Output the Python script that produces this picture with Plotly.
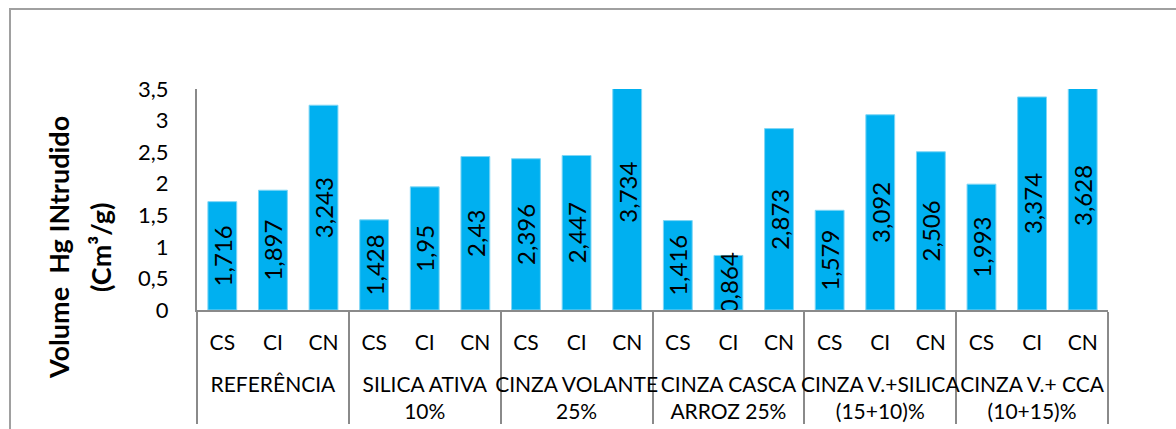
import plotly.graph_objects as go

# Mixture groups (outer category) and specimen types (inner category)
groups = [
    "REFERÊNCIA",
    "SILICA ATIVA<br>10%",
    "CINZA VOLANTE<br>25%",
    "CINZA CASCA<br>ARROZ 25%",
    "CINZA V.+SILICA<br>(15+10)%",
    "CINZA V.+ CCA<br>(10+15)%",
]
types = ["CS", "CI", "CN"]

# Intruded mercury volume (cm³/g) per group, in CS, CI, CN order
ref_vals = [1.716, 1.897, 3.243]
silica_vals = [1.428, 1.95, 2.43]
volante_vals = [2.396, 2.447, 3.734]
casca_vals = [1.416, 0.864, 2.873]
vsilica_vals = [1.579, 3.092, 2.506]
vcca_vals = [1.993, 3.374, 3.628]

all_vals = [ref_vals, silica_vals, volante_vals, casca_vals, vsilica_vals, vcca_vals]

outer, inner, values = [], [], []
for g, vals in zip(groups, all_vals):
    for t, v in zip(types, vals):
        # leading break leaves a blank row between the two label levels
        outer.append("<br>" + g)
        inner.append(t)
        values.append(v)

labels = [f"{v:g}".replace(".", ",") for v in values]

W, H = 1176, 429
L, R, T, B = 197, 68, 89, 119
pw, ph = W - L - R, H - T - B

def px_x(x):
    return (x - L) / pw

def px_y(y):
    return (H - B - y) / ph

AXIS_GRAY = "#8a8a8a"

fig = go.Figure(
    go.Bar(
        x=[outer, inner],
        y=values,
        text=labels,
        textposition="inside",
        insidetextanchor="middle",
        textangle=-90,
        constraintext="none",
        cliponaxis=True,
        marker=dict(color="#00B0F0", line=dict(color="#7fd6f5", width=1)),
        textfont=dict(family="Lato", size=24, color="black"),
    )
)

fig.update_layout(
    width=W,
    height=H,
    margin=dict(l=L, r=R, t=T, b=B, autoexpand=False),
    paper_bgcolor="white",
    plot_bgcolor="white",
    separators=",.",
    bargap=0.43,
    showlegend=False,
    font=dict(family="Lato", color="black"),
)

fig.update_yaxes(
    range=[0, 3.5],
    dtick=0.5,
    showgrid=False,
    zeroline=False,
    showline=True,
    linecolor=AXIS_GRAY,
    linewidth=2,
    ticks="outside",
    ticklen=22,
    tickcolor="rgba(0,0,0,0)",
    tickfont=dict(family="Lato", size=22, color="black"),
    automargin=False,
)

fig.update_xaxes(
    showgrid=False,
    showline=True,
    linecolor=AXIS_GRAY,
    linewidth=2,
    ticks="",
    ticklabelstandoff=13,
    tickangle=0,
    showdividers=True,
    dividercolor=AXIS_GRAY,
    dividerwidth=2,
    tickfont=dict(family="Lato", size=21, color="black"),
    automargin=False,
)

# Axis title, drawn as two rotated lines
fig.add_annotation(
    text="Volume \u00a0Hg INtrudido",
    xref="paper", yref="paper",
    x=px_x(58), y=px_y(248),
    xanchor="center", yanchor="middle",
    textangle=-90, showarrow=False,
    font=dict(family="Lato", size=27, color="black", weight="bold"),
)
fig.add_annotation(
    text="(Cm³/g)",
    xref="paper", yref="paper",
    x=px_x(100), y=px_y(248),
    xanchor="center", yanchor="middle",
    textangle=-90, showarrow=False,
    font=dict(family="Lato", size=27, color="black", weight="bold"),
)

# Chart-area frame
fig.add_shape(
    type="rect",
    xref="paper", yref="paper",
    x0=px_x(10), x1=px_x(1190),
    y0=px_y(450), y1=px_y(9),
    line=dict(color="#a0a0a0", width=2),
    fillcolor="rgba(0,0,0,0)",
    layer="below",
)

fig.write_html("out.html")
